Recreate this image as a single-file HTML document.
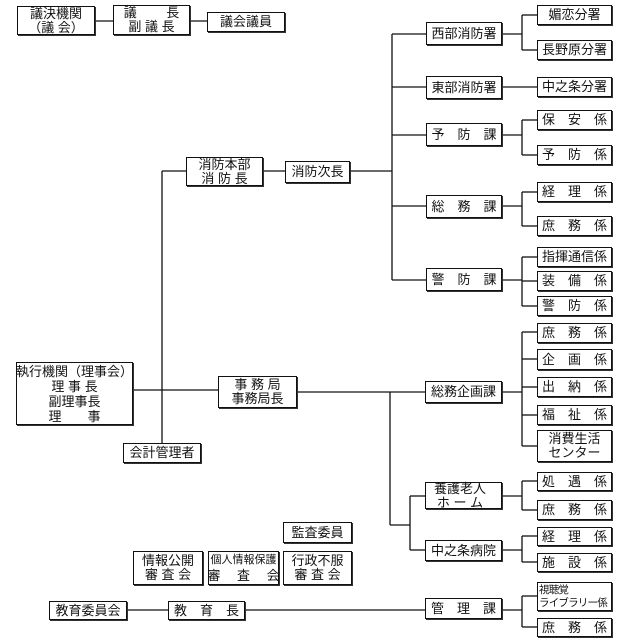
<!DOCTYPE html>
<html><head><meta charset="utf-8"><style>
html,body{margin:0;padding:0;background:#fff;}
body{width:621px;height:643px;position:relative;overflow:hidden;font-family:"Liberation Sans","Noto Sans CJK JP",sans-serif;color:#111;}
.b{position:absolute;box-sizing:border-box;border:1px solid #111;box-shadow:1px 1px 0 #333;background:#fff;display:flex;flex-direction:column;align-items:center;justify-content:center;font-size:13px;line-height:14px;white-space:pre;text-align:center;}
svg{position:absolute;left:0;top:0;}
</style></head><body>
<svg width="621" height="643" stroke="#111" stroke-width="1.3" fill="none">
<line x1="95" y1="21" x2="113" y2="21"/>
<line x1="190" y1="21" x2="207" y2="21"/>
<line x1="162" y1="171" x2="162" y2="443"/>
<line x1="162" y1="171" x2="186" y2="171"/>
<line x1="263" y1="171" x2="285" y2="171"/>
<line x1="350" y1="171" x2="392" y2="171"/>
<line x1="133" y1="390" x2="218" y2="390"/>
<line x1="297" y1="392" x2="425" y2="392"/>
<line x1="392" y1="34" x2="392" y2="280"/>
<line x1="392" y1="34" x2="426" y2="34"/>
<line x1="392" y1="87" x2="426" y2="87"/>
<line x1="392" y1="135" x2="426" y2="135"/>
<line x1="392" y1="206" x2="426" y2="206"/>
<line x1="392" y1="280" x2="426" y2="280"/>
<line x1="502" y1="34" x2="522" y2="34"/>
<line x1="522" y1="15" x2="522" y2="50"/>
<line x1="522" y1="15" x2="537" y2="15"/>
<line x1="522" y1="50" x2="537" y2="50"/>
<line x1="502" y1="87" x2="537" y2="87"/>
<line x1="502" y1="135" x2="522" y2="135"/>
<line x1="522" y1="120" x2="522" y2="155"/>
<line x1="522" y1="120" x2="537" y2="120"/>
<line x1="522" y1="155" x2="537" y2="155"/>
<line x1="502" y1="206" x2="522" y2="206"/>
<line x1="522" y1="192" x2="522" y2="226"/>
<line x1="522" y1="192" x2="537" y2="192"/>
<line x1="522" y1="226" x2="537" y2="226"/>
<line x1="502" y1="280" x2="522" y2="280"/>
<line x1="522" y1="257" x2="522" y2="306"/>
<line x1="522" y1="257" x2="537" y2="257"/>
<line x1="522" y1="281" x2="537" y2="281"/>
<line x1="522" y1="306" x2="537" y2="306"/>
<line x1="390" y1="392" x2="390" y2="525"/>
<line x1="390" y1="525" x2="410" y2="525"/>
<line x1="410" y1="496" x2="410" y2="550"/>
<line x1="410" y1="496" x2="425" y2="496"/>
<line x1="410" y1="550" x2="425" y2="550"/>
<line x1="502" y1="392" x2="522" y2="392"/>
<line x1="522" y1="332" x2="522" y2="446"/>
<line x1="522" y1="332" x2="537" y2="332"/>
<line x1="522" y1="359" x2="537" y2="359"/>
<line x1="522" y1="387" x2="537" y2="387"/>
<line x1="522" y1="415" x2="537" y2="415"/>
<line x1="522" y1="446" x2="537" y2="446"/>
<line x1="502" y1="496" x2="522" y2="496"/>
<line x1="522" y1="481" x2="522" y2="510"/>
<line x1="522" y1="481" x2="537" y2="481"/>
<line x1="522" y1="510" x2="537" y2="510"/>
<line x1="502" y1="550" x2="522" y2="550"/>
<line x1="522" y1="536" x2="522" y2="562"/>
<line x1="522" y1="536" x2="537" y2="536"/>
<line x1="522" y1="562" x2="537" y2="562"/>
<line x1="127" y1="610" x2="168" y2="610"/>
<line x1="245" y1="610" x2="425" y2="610"/>
<line x1="502" y1="610" x2="522" y2="610"/>
<line x1="522" y1="596" x2="522" y2="627"/>
<line x1="522" y1="596" x2="537" y2="596"/>
<line x1="522" y1="627" x2="537" y2="627"/>
</svg>

<div class="b" style="left:17px;top:6px;width:78px;height:29px">議決機関
（議 会）</div>
<div class="b" style="left:113px;top:5px;width:77px;height:30px">議　　 長
副 議 長</div>
<div class="b" style="left:207px;top:12px;width:78px;height:20px">議会議員</div>

<div class="b" style="left:186px;top:157px;width:77px;height:29px">消防本部
消 防 長</div>
<div class="b" style="left:285px;top:161px;width:65px;height:22px">消防次長</div>

<div class="b" style="left:16px;top:362px;width:117px;height:63px;line-height:15px">執行機関（理事会）
理 事 長
副理事長
理　　事</div>
<div class="b" style="left:218px;top:376px;width:79px;height:32px">事 務 局
事務局長</div>
<div class="b" style="left:123px;top:443px;width:78px;height:20px">会計管理者</div>

<div class="b" style="left:426px;top:22px;width:76px;height:23px">西部消防署</div>
<div class="b" style="left:426px;top:76px;width:76px;height:23px">東部消防署</div>
<div class="b" style="left:426px;top:123px;width:76px;height:23px">予　防　課</div>
<div class="b" style="left:426px;top:195px;width:76px;height:23px">総　務　課</div>
<div class="b" style="left:426px;top:268px;width:76px;height:23px">警　防　課</div>

<div class="b" style="left:537px;top:5px;width:75px;height:20px">媚恋分署</div>
<div class="b" style="left:537px;top:40px;width:75px;height:20px">長野原分署</div>
<div class="b" style="left:537px;top:77px;width:75px;height:20px">中之条分署</div>
<div class="b" style="left:537px;top:110px;width:75px;height:20px">保　安　係</div>
<div class="b" style="left:537px;top:145px;width:75px;height:20px">予　防　係</div>
<div class="b" style="left:537px;top:182px;width:75px;height:20px">経　理　係</div>
<div class="b" style="left:537px;top:216px;width:75px;height:20px">庶　務　係</div>
<div class="b" style="left:537px;top:247px;width:75px;height:20px">指揮通信係</div>
<div class="b" style="left:537px;top:271px;width:75px;height:20px">装　備　係</div>
<div class="b" style="left:537px;top:296px;width:75px;height:20px">警　防　係</div>

<div class="b" style="left:425px;top:381px;width:77px;height:22px">総務企画課</div>
<div class="b" style="left:425px;top:482px;width:77px;height:27px;align-items:flex-start;padding-left:8px">養護老人
ホ ー ム</div>
<div class="b" style="left:425px;top:540px;width:77px;height:21px">中之条病院</div>
<div class="b" style="left:425px;top:598px;width:77px;height:21px">管　理　課</div>

<div class="b" style="left:537px;top:323px;width:75px;height:20px">庶　務　係</div>
<div class="b" style="left:537px;top:349px;width:75px;height:21px">企　画　係</div>
<div class="b" style="left:537px;top:377px;width:75px;height:20px">出　納　係</div>
<div class="b" style="left:537px;top:405px;width:75px;height:20px">福　祉　係</div>
<div class="b" style="left:537px;top:430px;width:75px;height:32px">消費生活
センター</div>
<div class="b" style="left:537px;top:472px;width:75px;height:19px">処　遇　係</div>
<div class="b" style="left:537px;top:500px;width:75px;height:20px">庶　務　係</div>
<div class="b" style="left:537px;top:527px;width:75px;height:19px">経　理　係</div>
<div class="b" style="left:537px;top:553px;width:75px;height:19px">施　設　係</div>
<div class="b" style="left:537px;top:582px;width:75px;height:29px;align-items:flex-start;text-align:left;padding-left:1px;font-size:10.5px;letter-spacing:-0.8px;line-height:13px">視聴覚
ライブラリー係</div>
<div class="b" style="left:537px;top:618px;width:75px;height:19px">庶　務　係</div>

<div class="b" style="left:283px;top:522px;width:69px;height:21px">監査委員</div>
<div class="b" style="left:133px;top:551px;width:70px;height:34px">情報公開
審 査 会</div>
<div class="b" style="left:208px;top:551px;width:71px;height:34px;font-size:11px;line-height:16px">個人情報保護
<span style="font-size:13px">審　 査　 会</span></div>
<div class="b" style="left:283px;top:551px;width:69px;height:34px">行政不服
審 査 会</div>

<div class="b" style="left:49px;top:601px;width:78px;height:19px">教育委員会</div>
<div class="b" style="left:168px;top:601px;width:77px;height:19px">教　育　長</div>
</body></html>
